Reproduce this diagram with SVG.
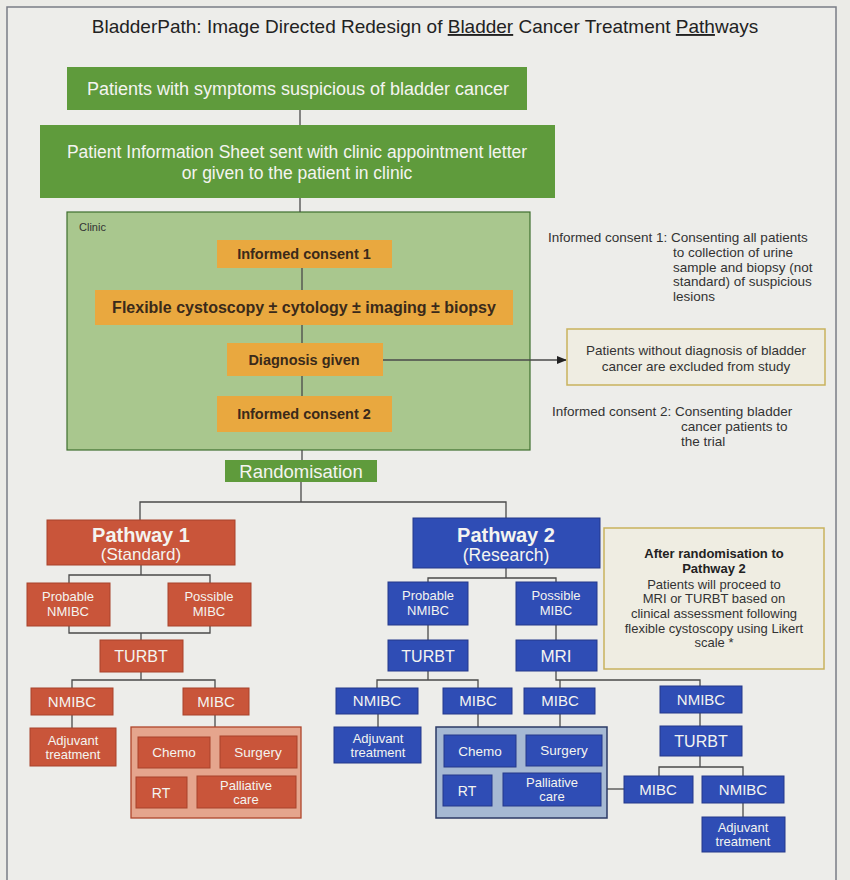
<svg xmlns="http://www.w3.org/2000/svg" width="850" height="880" viewBox="0 0 850 880">
<defs>
<style>
text{font-family:"Liberation Sans",Arial,sans-serif;text-anchor:middle}
.g{fill:#5f9b3c}
.o{fill:#e9a83f}
.r{fill:#c9553a;stroke:#a8432b;stroke-width:1}
.b{fill:#2f4db5;stroke:#24398a;stroke-width:1}
.wt{fill:#f4f4f0}
.dk{fill:#3a2a1a}
.nt{fill:#333;font-size:13.5px;text-anchor:start}
.ln{stroke:#4a4a4a;stroke-width:1.3;fill:none}
</style>
<marker id="ah" markerWidth="10" markerHeight="8" refX="9" refY="4" orient="auto" markerUnits="userSpaceOnUse">
<path d="M0,0 L10,4 L0,8 Z" fill="#222"/>
</marker>
</defs>
<rect width="850" height="880" fill="#ebebe7"/>
<rect x="7" y="7" width="829" height="880" fill="#ededea" stroke="#7a7d86" stroke-width="1.5"/>

<g id="title">
<text x="425" y="33" font-size="19" fill="#222">BladderPath: Image Directed Redesign of <tspan text-decoration="underline">Bladder</tspan> Cancer Treatment <tspan text-decoration="underline">Path</tspan>ways</text>
</g>

<g id="clinic">
<rect x="67" y="212" width="463" height="238" fill="#a9c78e" stroke="#3e6e2e" stroke-width="1.2"/>
<text x="79" y="231" font-size="11" fill="#333" style="text-anchor:start">Clinic</text>
</g>

<g id="connectors">
<line class="ln" x1="300" y1="110" x2="300" y2="125"/>
<line class="ln" x1="300" y1="198" x2="300" y2="212"/>
<line class="ln" x1="302" y1="268" x2="302" y2="290"/>
<line class="ln" x1="302" y1="325" x2="302" y2="343"/>
<line class="ln" x1="302" y1="376" x2="302" y2="396"/>
<line class="ln" x1="302" y1="450" x2="302" y2="460"/>
<line class="ln" x1="383" y1="360" x2="566" y2="360" marker-end="url(#ah)"/>
<path class="ln" d="M301,482 V502 M140,520 V502 H506 V518"/>
<path class="ln" d="M141,565 V575 M69,583 V575 H210 V583"/>
<path class="ln" d="M69,626 V633 H210 V626 M141,633 V640"/>
<path class="ln" d="M141,672 V680 M72,688 V680 H215 V688"/>
<line class="ln" x1="72" y1="715" x2="72" y2="728"/>
<line class="ln" x1="215" y1="715" x2="215" y2="727"/>
<path class="ln" d="M506,568 V578 M428,582 V578 H556 V582"/>
<line class="ln" x1="428" y1="625" x2="428" y2="640"/>
<line class="ln" x1="556" y1="625" x2="556" y2="640"/>
<path class="ln" d="M428,671 V680 M377,688 V680 H478 V688"/>
<path class="ln" d="M556,671 V680 H700 V686 M560,680 V688"/>
<line class="ln" x1="378" y1="714" x2="378" y2="727"/>
<line class="ln" x1="478" y1="714" x2="478" y2="727"/>
<line class="ln" x1="560" y1="714" x2="560" y2="727"/>
<line class="ln" x1="700" y1="713" x2="700" y2="726"/>
<path class="ln" d="M700,756 V767 M659,776 V767 H743 V776"/>
<line class="ln" x1="607" y1="789" x2="624" y2="789"/>
<line class="ln" x1="743" y1="803" x2="743" y2="817"/>
</g>

<g id="symptoms">
<rect class="g" x="67" y="67" width="460" height="43"/>
<text class="wt" x="298" y="95" font-size="18">Patients with symptoms suspicious of bladder cancer</text>
</g>
<g id="info-sheet">
<rect class="g" x="40" y="125" width="515" height="73"/>
<text class="wt" x="297" y="158" font-size="17.5">Patient Information Sheet sent with clinic appointment letter</text>
<text class="wt" x="297" y="179" font-size="17.5">or given to the patient in clinic</text>
</g>
<g id="consent1">
<rect class="o" x="217" y="240" width="175" height="28"/>
<text class="dk" x="304" y="259" font-size="14.5" font-weight="bold">Informed  consent 1</text>
</g>
<g id="cystoscopy">
<rect class="o" x="95" y="290" width="418" height="35"/>
<text class="dk" x="304" y="313" font-size="16" font-weight="bold">Flexible cystoscopy ± cytology ± imaging ± biopsy</text>
</g>
<g id="diagnosis">
<rect class="o" x="227" y="343" width="156" height="33"/>
<text class="dk" x="304" y="365" font-size="14.5" font-weight="bold">Diagnosis given</text>
</g>
<g id="consent2">
<rect class="o" x="217" y="396" width="175" height="36"/>
<text class="dk" x="304" y="419" font-size="14.5" font-weight="bold">Informed  consent 2</text>
</g>

<g id="note-consent1">
<text class="nt" x="548" y="242">Informed consent 1: Consenting all patients</text>
<text class="nt" x="673" y="257">to collection of urine</text>
<text class="nt" x="673" y="272">sample and biopsy (not</text>
<text class="nt" x="673" y="286">standard) of suspicious</text>
<text class="nt" x="673" y="301">lesions</text>
</g>
<g id="excluded">
<rect x="567" y="329" width="258" height="56" fill="#efede2" stroke="#c9b25e" stroke-width="1.5"/>
<text x="696" y="355" font-size="13.5" fill="#333">Patients without diagnosis of bladder</text>
<text x="696" y="371" font-size="13.5" fill="#333">cancer are excluded from study</text>
</g>
<g id="note-consent2">
<text class="nt" x="552" y="416">Informed consent 2: Consenting bladder</text>
<text class="nt" x="681" y="431">cancer patients to</text>
<text class="nt" x="681" y="446">the trial</text>
</g>

<g id="randomisation">
<rect class="g" x="225" y="460" width="152" height="22"/>
<text class="wt" x="301" y="478" font-size="18.5">Randomisation</text>
</g>

<g id="pathway1">
<rect class="r" x="47" y="520" width="188" height="45"/>
<text class="wt" x="141" y="542" font-size="20" font-weight="bold">Pathway 1</text>
<text class="wt" x="141" y="560" font-size="17">(Standard)</text>
</g>
<g id="p1-probable">
<rect class="r" x="27" y="583" width="83" height="43"/>
<text class="wt" x="68" y="601" font-size="13">Probable</text>
<text class="wt" x="68" y="616" font-size="13">NMIBC</text>
</g>
<g id="p1-possible">
<rect class="r" x="168" y="583" width="83" height="43"/>
<text class="wt" x="209" y="601" font-size="13">Possible</text>
<text class="wt" x="209" y="616" font-size="13">MIBC</text>
</g>
<g id="p1-turbt">
<rect class="r" x="100" y="640" width="83" height="32"/>
<text class="wt" x="141" y="662" font-size="16">TURBT</text>
</g>
<g id="p1-nmibc">
<rect class="r" x="31" y="688" width="82" height="27"/>
<text class="wt" x="72" y="707" font-size="15">NMIBC</text>
</g>
<g id="p1-mibc">
<rect class="r" x="183" y="688" width="66" height="27"/>
<text class="wt" x="216" y="707" font-size="15">MIBC</text>
</g>
<g id="p1-adjuvant">
<rect class="r" x="30" y="728" width="86" height="38"/>
<text class="wt" x="73" y="745" font-size="13">Adjuvant</text>
<text class="wt" x="73" y="759" font-size="13">treatment</text>
</g>
<g id="p1-treatments">
<rect x="131" y="727" width="170" height="91" fill="#e5a58d" stroke="#b0462c" stroke-width="1.3"/>
<rect class="r" x="138" y="737" width="72" height="31"/>
<text class="wt" x="174" y="757" font-size="13.5">Chemo</text>
<rect class="r" x="220" y="736" width="77" height="32"/>
<text class="wt" x="258" y="757" font-size="13.5">Surgery</text>
<rect class="r" x="136" y="777" width="51" height="31"/>
<text class="wt" x="161" y="798" font-size="14">RT</text>
<rect class="r" x="197" y="776" width="99" height="32"/>
<text class="wt" x="246" y="790" font-size="13">Palliative</text>
<text class="wt" x="246" y="804" font-size="13">care</text>
</g>

<g id="pathway2">
<rect class="b" x="413" y="518" width="187" height="50"/>
<text class="wt" x="506" y="542" font-size="20" font-weight="bold">Pathway 2</text>
<text class="wt" x="506" y="561" font-size="17.5">(Research)</text>
</g>
<g id="p2-probable">
<rect class="b" x="388" y="582" width="80" height="43"/>
<text class="wt" x="428" y="600" font-size="13">Probable</text>
<text class="wt" x="428" y="615" font-size="13">NMIBC</text>
</g>
<g id="p2-possible">
<rect class="b" x="516" y="582" width="81" height="43"/>
<text class="wt" x="556" y="600" font-size="13">Possible</text>
<text class="wt" x="556" y="615" font-size="13">MIBC</text>
</g>
<g id="p2-turbt">
<rect class="b" x="388" y="640" width="80" height="31"/>
<text class="wt" x="428" y="662" font-size="16">TURBT</text>
</g>
<g id="p2-mri">
<rect class="b" x="516" y="640" width="81" height="31"/>
<text class="wt" x="556" y="662" font-size="17">MRI</text>
</g>
<g id="p2-nmibc">
<rect class="b" x="336" y="688" width="82" height="26"/>
<text class="wt" x="377" y="706" font-size="15">NMIBC</text>
</g>
<g id="p2-mibc">
<rect class="b" x="443" y="688" width="69" height="26"/>
<text class="wt" x="478" y="706" font-size="15">MIBC</text>
</g>
<g id="p2-mri-mibc">
<rect class="b" x="524" y="688" width="71" height="26"/>
<text class="wt" x="560" y="706" font-size="15">MIBC</text>
</g>
<g id="p2-mri-nmibc">
<rect class="b" x="660" y="686" width="82" height="27"/>
<text class="wt" x="701" y="705" font-size="15">NMIBC</text>
</g>
<g id="p2-adjuvant">
<rect class="b" x="334" y="727" width="87" height="36"/>
<text class="wt" x="378" y="743" font-size="13">Adjuvant</text>
<text class="wt" x="378" y="757" font-size="13">treatment</text>
</g>
<g id="p2-treatments">
<rect x="436" y="727" width="171" height="91" fill="#a6b9d3" stroke="#2b3a66" stroke-width="1.5"/>
<rect class="b" x="444" y="735" width="72" height="32"/>
<text class="wt" x="480" y="756" font-size="13.5">Chemo</text>
<rect class="b" x="526" y="735" width="76" height="31"/>
<text class="wt" x="564" y="755" font-size="13.5">Surgery</text>
<rect class="b" x="443" y="775" width="49" height="31"/>
<text class="wt" x="467" y="796" font-size="14">RT</text>
<rect class="b" x="503" y="773" width="98" height="33"/>
<text class="wt" x="552" y="787" font-size="13">Palliative</text>
<text class="wt" x="552" y="801" font-size="13">care</text>
</g>
<g id="p2-turbt2">
<rect class="b" x="660" y="726" width="82" height="30"/>
<text class="wt" x="701" y="747" font-size="16">TURBT</text>
</g>
<g id="p2-turbt2-mibc">
<rect class="b" x="624" y="776" width="69" height="27"/>
<text class="wt" x="658" y="795" font-size="15">MIBC</text>
</g>
<g id="p2-turbt2-nmibc">
<rect class="b" x="702" y="776" width="82" height="27"/>
<text class="wt" x="743" y="795" font-size="15">NMIBC</text>
</g>
<g id="p2-adjuvant2">
<rect class="b" x="702" y="817" width="83" height="35"/>
<text class="wt" x="743" y="832" font-size="13">Adjuvant</text>
<text class="wt" x="743" y="846" font-size="13">treatment</text>
</g>

<g id="note-pathway2">
<rect x="604" y="528" width="220" height="141" fill="#efede2" stroke="#c9b25e" stroke-width="1.5"/>
<text x="714" y="558" font-size="13" font-weight="bold" fill="#222">After randomisation  to</text>
<text x="714" y="573" font-size="13" font-weight="bold" fill="#222">Pathway 2</text>
<text x="714" y="589" font-size="13" fill="#333">Patients will proceed to</text>
<text x="714" y="603" font-size="13" fill="#333">MRI or TURBT  based on</text>
<text x="714" y="618" font-size="13" fill="#333">clinical assessment  following</text>
<text x="714" y="633" font-size="13" fill="#333">flexible  cystoscopy using Likert</text>
<text x="714" y="647" font-size="13" fill="#333">scale *</text>
</g>
</svg>
